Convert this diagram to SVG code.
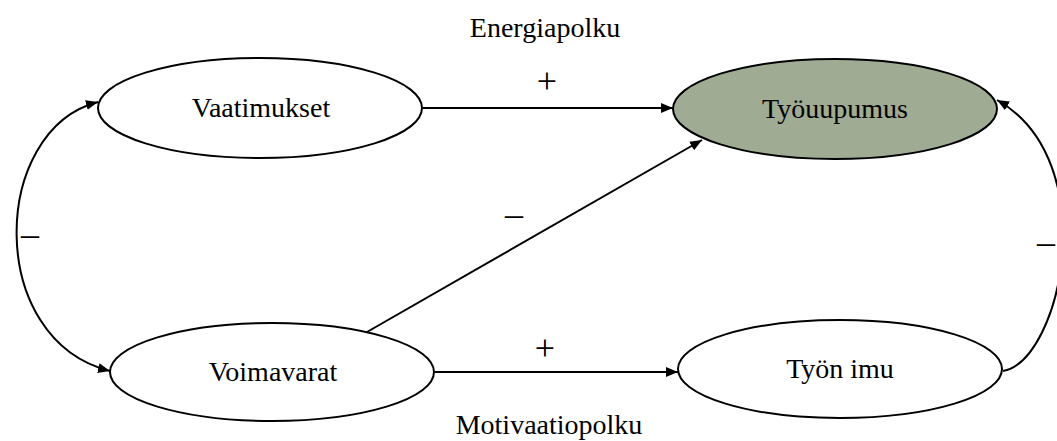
<svg xmlns="http://www.w3.org/2000/svg" width="1057" height="441" viewBox="0 0 1057 441">
<style>
.node{fill:#fff;stroke:#000;stroke-width:2}
.hot{fill:#9FAC93}
.t{font-family:"Liberation Serif","Times New Roman",serif;font-size:28px;fill:#000;text-anchor:middle}
.s{font-size:36px}
.edge{fill:none;stroke:#000;stroke-width:2}
</style>
<defs>
<marker id="ah" viewBox="0 0 12 10" refX="12" refY="5" markerWidth="12" markerHeight="10" markerUnits="userSpaceOnUse" orient="auto-start-reverse">
<path d="M0,0 L12,5 L0,10 z" fill="#000"/>
</marker>
</defs>
<rect width="1057" height="441" fill="#fff"/>
<g id="connectors">
<line class="edge" x1="423" y1="108" x2="673" y2="108" marker-end="url(#ah)"/>
<line class="edge" x1="367" y1="332" x2="702" y2="140" marker-end="url(#ah)"/>
<line class="edge" x1="435" y1="372" x2="678" y2="372" marker-end="url(#ah)"/>
<path class="edge" d="M98,102 C-10,130 -15,340 110,371" marker-start="url(#ah)" marker-end="url(#ah)"/>
<path class="edge" d="M1003,371 C1062,360 1104,160 997,100" marker-end="url(#ah)"/>
<text class="t s" x="547" y="93">+</text>
<text class="t s" x="514" y="226">–</text>
<text class="t s" x="545" y="360">+</text>
<text class="t s" x="30" y="246">–</text>
<text class="t s" x="1046" y="254">–</text>
</g>
<g id="label-energia"><text class="t" x="545" y="37">Energiapolku</text></g>
<g id="label-motivaatio"><text class="t" x="549" y="434">Motivaatiopolku</text></g>
<g id="vaatimukset">
<ellipse class="node" cx="260" cy="108" rx="162" ry="50"/>
<text class="t" x="261" y="117">Vaatimukset</text>
</g>
<g id="tyouupumus">
<ellipse class="node hot" cx="835" cy="109" rx="162" ry="50"/>
<text class="t" x="835" y="118">Työuupumus</text>
</g>
<g id="voimavarat">
<ellipse class="node" cx="272" cy="372" rx="162" ry="49"/>
<text class="t" x="273" y="381">Voimavarat</text>
</g>
<g id="tyon-imu">
<ellipse class="node" cx="840" cy="369" rx="162" ry="49"/>
<text class="t" x="840" y="378">Työn imu</text>
</g>
</svg>
